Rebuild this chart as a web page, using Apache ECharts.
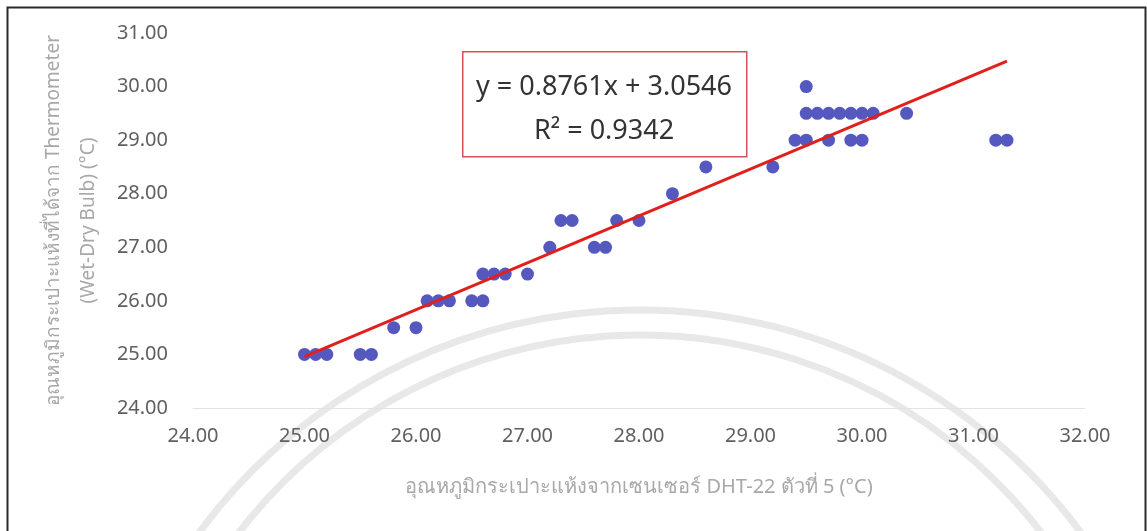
<!DOCTYPE html>
<html>
<head>
<meta charset="utf-8">
<script src="https://cdn.jsdelivr.net/npm/echarts@6/dist/echarts.min.js"></script>
<style>
  html, body { margin: 0; padding: 0; background: #ffffff; }
  #chart { width: 1147px; height: 531px; }
</style>
</head>
<body>
<div id="chart"></div>
<script>
// Dry-bulb temperature from DHT-22 sensor #5 (x) vs thermometer reading (y), °C
const sensorTemp = [
  25.0, 25.1, 25.2, 25.5, 25.6,
  25.8, 26.0,
  26.1, 26.2, 26.3, 26.5, 26.6,
  26.6, 26.7, 26.8, 27.0,
  27.2, 27.6, 27.7,
  27.3, 27.4, 27.8, 28.0,
  28.3,
  28.6, 29.2,
  29.4, 29.5, 29.7, 29.9, 30.0, 31.2, 31.3,
  29.5, 29.6, 29.7, 29.8, 29.9, 30.0, 30.1, 30.4,
  29.5
];
const thermoTemp = [
  25.0, 25.0, 25.0, 25.0, 25.0,
  25.5, 25.5,
  26.0, 26.0, 26.0, 26.0, 26.0,
  26.5, 26.5, 26.5, 26.5,
  27.0, 27.0, 27.0,
  27.5, 27.5, 27.5, 27.5,
  28.0,
  28.5, 28.5,
  29.0, 29.0, 29.0, 29.0, 29.0, 29.0, 29.0,
  29.5, 29.5, 29.5, 29.5, 29.5, 29.5, 29.5, 29.5,
  30.0
];

// Linear trend line coefficients
const slope = 0.8761;
const intercept = 3.0546;
const rSquared = 0.9342;

// Axis ranges
const xMin = 24, xMax = 32, xStep = 1;
const yMin = 24, yMax = 31, yStep = 1;

const xTitle = 'อุณหภูมิกระเปาะแห้งจากเซนเซอร์ DHT-22 ตัวที่ 5 (°C)';
const yTitle = 'อุณหภูมิกระเปาะแห้งที่ได้จาก Thermometer\n(Wet-Dry Bulb) (°C)';

const points = sensorTemp.map((x, i) => [x, thermoTemp[i]]);
const xLo = Math.min(...sensorTemp);
const xHi = Math.max(...sensorTemp);
const trend = [[xLo, slope * xLo + intercept], [xHi, slope * xHi + intercept]];

const eqText = 'y = ' + slope.toFixed(4) + 'x + ' + intercept.toFixed(4);
const r2Text = 'R² = ' + rSquared.toFixed(4);

const FONT = '"Noto Sans", "Open Sans", sans-serif';

const chart = echarts.init(document.getElementById('chart'));
chart.setOption({
  backgroundColor: '#ffffff',
  animation: false,
  grid: { left: 193, right: 62, top: 33, bottom: 123 },
  xAxis: {
    type: 'value',
    min: xMin, max: xMax, interval: xStep,
    name: xTitle,
    nameLocation: 'middle',
    nameGap: 69,
    nameTextStyle: { color: '#a8a8a8', fontSize: 20, fontFamily: FONT },
    axisLine: { show: true, lineStyle: { color: '#e3e3e3', width: 1 } },
    axisTick: { show: false },
    splitLine: { show: false },
    axisLabel: {
      color: '#5f5f5f', fontSize: 20, fontFamily: FONT, margin: 18,
      formatter: v => v.toFixed(2)
    }
  },
  yAxis: {
    type: 'value',
    min: yMin, max: yMax, interval: yStep,
    name: yTitle,
    nameLocation: 'middle',
    nameRotate: 90,
    nameGap: 80,
    nameTextStyle: { color: '#a8a8a8', fontSize: 19, fontFamily: FONT, lineHeight: 35 },
    axisLine: { show: false },
    axisTick: { show: false },
    splitLine: { show: false },
    axisLabel: {
      color: '#5f5f5f', fontSize: 20, fontFamily: FONT, margin: 25,
      formatter: v => v.toFixed(2)
    }
  },
  series: [
    {
      type: 'scatter',
      data: points,
      symbol: 'circle',
      symbolSize: 13,
      itemStyle: { color: '#5559bf', opacity: 1 },
      z: 2
    },
    {
      type: 'line',
      data: trend,
      symbol: 'none',
      lineStyle: { color: '#e0201c', width: 3 },
      z: 3
    }
  ],
  graphic: [
    // faint seal arcs in the page background
    {
      type: 'arc',
      shape: { cx: 640, cy: 858, r: 548, startAngle: Math.PI * 1.08, endAngle: Math.PI * 1.92 },
      style: { fill: 'none', stroke: '#e8e8e8', lineWidth: 7 },
      z: -10, silent: true
    },
    {
      type: 'arc',
      shape: { cx: 640, cy: 841, r: 506, startAngle: Math.PI * 1.1, endAngle: Math.PI * 1.9 },
      style: { fill: 'none', stroke: '#e8e8e8', lineWidth: 7 },
      z: -10, silent: true
    },
    {
      type: 'rect',
      left: 5, top: 5,
      shape: { width: 1138, height: 560 },
      style: { fill: 'none', stroke: '#2b2b2b', lineWidth: 2 },
      silent: true
    },
    {
      type: 'rect',
      left: 462, top: 51,
      shape: { width: 284, height: 105 },
      style: { fill: '#ffffff', stroke: '#d6505a', lineWidth: 1.5 },
      z: 10
    },
    {
      type: 'text',
      x: 604, y: 87,
      style: {
        text: eqText, fill: '#333333', fontSize: 27, fontFamily: FONT,
        align: 'center', verticalAlign: 'middle'
      },
      z: 11
    },
    {
      type: 'text',
      x: 604, y: 131,
      style: {
        text: r2Text, fill: '#333333', fontSize: 27, fontFamily: FONT,
        align: 'center', verticalAlign: 'middle'
      },
      z: 11
    }
  ]
});
</script>
</body>
</html>
